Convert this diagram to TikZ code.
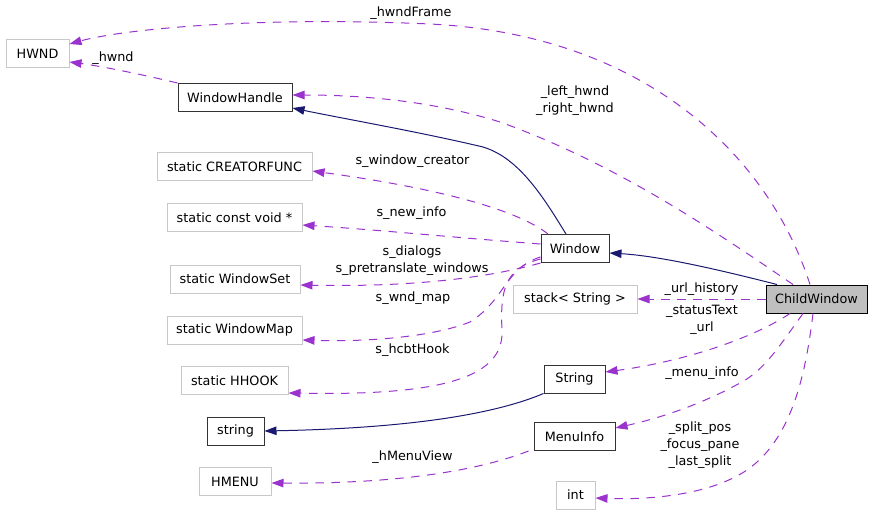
\documentclass[tikz,border=0pt]{standalone}
\usepackage{fontspec}
\setmainfont{DejaVu Sans}
\usetikzlibrary{arrows.meta}
\definecolor{dep}{HTML}{9A32CD}
\definecolor{inh}{HTML}{191970}
\definecolor{lgray}{HTML}{C8C8C8}
\definecolor{cwfill}{HTML}{BFBFBF}
\tikzset{
  box/.style={draw=lgray, line width=1pt, rectangle, minimum height=28pt, inner sep=0pt, font=\fontsize{12.8}{17}\selectfont},
  bbox/.style={box, draw=black!80},
  depl/.style={draw=dep, line width=1pt, dash pattern=on 8.5pt off 7.5pt, -{Triangle[length=12pt,width=8.5pt,fill=dep]}},
  inhl/.style={draw=inh, line width=1pt, -{Triangle[length=12pt,width=8.5pt,fill=inh]}},
  lbl/.style={font=\fontsize{12.8}{17}\selectfont, align=center, inner sep=0pt}
}
\begin{document}
\begin{tikzpicture}[x=1pt,y=-1pt]
\useasboundingbox (0,0) rectangle (872,513);
% nodes
\node[box, minimum width=63pt] (hwnd) at (37.5,54) {HWND};
\node[bbox, minimum width=114pt] (wh) at (235,97.5) {WindowHandle};
\node[box, minimum width=155pt] (crt) at (234.5,167) {static CREATORFUNC};
\node[box, minimum width=135pt] (cv) at (234.5,217.5) {static const void *};
\node[box, minimum width=130pt] (ws) at (235,279) {static WindowSet};
\node[box, minimum width=135pt] (wm) at (234.5,330) {static WindowMap};
\node[box, minimum width=107pt] (hh) at (234.5,380.5) {static HHOOK};
\node[bbox, minimum width=57pt] (strl) at (235.5,431) {string};
\node[box, minimum width=72pt] (hm) at (235,481.5) {HMENU};
\node[bbox, minimum width=68pt] (win) at (575,248.5) {Window};
\node[box, minimum width=124pt] (st) at (575,299) {stack< String >};
\node[bbox, draw=black, fill=cwfill, minimum width=101pt] (cw) at (816.5,299) {ChildWindow};
\node[bbox, minimum width=61pt] (str) at (574.5,379) {String};
\node[bbox, minimum width=81pt] (mi) at (574.5,436.5) {MenuInfo};
\node[box, minimum width=39pt] (int) at (575.5,495) {int};
% edges
\draw[depl] ([xshift=-6.5pt]cw.north) .. controls (770,160) and (650,35) .. (430,24) .. controls (250,16) and (120,30) .. ([yshift=10pt]hwnd.east);
\draw[depl] (wh.north west) .. controls (140,74) and (100,66) .. ([yshift=-8pt]hwnd.east);
\draw[depl] ([xshift=-23.5pt]cw.north) .. controls (720,235) and (620,165) .. (500,122) .. controls (420,97) and (340,95) .. ([yshift=2.5pt]wh.east);
\draw[inhl] ([xshift=-9pt]win.north) .. controls (545,200) and (520,158) .. (483,147) .. controls (420,132) and (340,118) .. ([yshift=-10.5pt]wh.east);
\draw[inhl] ([xshift=-39.5pt]cw.north) .. controls (720,270) and (660,256) .. ([yshift=-4.5pt]win.east);
\draw[depl] ([xshift=-27pt]win.north) .. controls (520,212) and (450,190) .. ([yshift=-4pt]crt.east);
\draw[depl] ([yshift=4.5pt]win.west) .. controls (460,238) and (380,230) .. ([yshift=-7.5pt]cv.east);
\draw[depl] (win.south west) .. controls (480,280) and (400,287) .. ([yshift=-6pt]ws.east);
\draw[depl] ([yshift=-8.5pt]win.west) .. controls (505,268) and (505,300) .. (470,322) .. controls (430,338) and (360,342) .. ([yshift=-10pt]wm.east);
\draw[depl] ([yshift=-10.5pt]win.west) .. controls (505,268) and (500,290) .. (502,330) .. controls (504,375) and (450,396) .. ([yshift=-12.5pt]hh.east);
\draw[depl] (cw.west) -- (st.east);
\draw[depl] ([xshift=-26.5pt]cw.south) .. controls (750,340) and (680,362) .. ([yshift=7pt]str.east);
\draw[inhl] (str.south west) .. controls (500,412) and (420,428) .. (strl.east);
\draw[depl] ([xshift=-13.5pt]cw.south) .. controls (780,345) and (765,370) .. (740,383) .. controls (700,405) and (660,418) .. ([yshift=8.5pt]mi.east);
\draw[depl] ([xshift=-5pt]mi.south west) .. controls (480,470) and (400,484) .. ([yshift=-1.5pt]hm.east);
\draw[depl] ([xshift=-3.5pt]cw.south) .. controls (805,380) and (790,440) .. (747,470) .. controls (710,495) and (650,500) .. ([yshift=-3pt]int.east);
% labels
\node[lbl] (l1) at (411,13) {\_hwndFrame};
\node[lbl] (l2) at (113,58) {\_hwnd};
\node[lbl] (l3) at (575,101) {\_left\_hwnd\\\_right\_hwnd};
\node[lbl] (l4) at (412.5,161) {s\_window\_creator};
\node[lbl] (l5) at (411.5,213) {s\_new\_info};
\node[lbl] (l6) at (412,260.5) {s\_dialogs\\s\_pretranslate\_windows};
\node[lbl] (l7) at (413,298) {s\_wnd\_map};
\node[lbl] (l8) at (412.5,350) {s\_hcbtHook};
\node[lbl] (l9) at (701.5,289) {\_url\_history};
\node[lbl] (l10) at (702,319.5) {\_statusText\\\_url};
\node[lbl] (l11) at (702,373) {\_menu\_info};
\node[lbl] (l12) at (700,445) {\_split\_pos\\\_focus\_pane\\\_last\_split};
\node[lbl] (l13) at (412.5,457) {\_hMenuView};
\end{tikzpicture}
\end{document}
